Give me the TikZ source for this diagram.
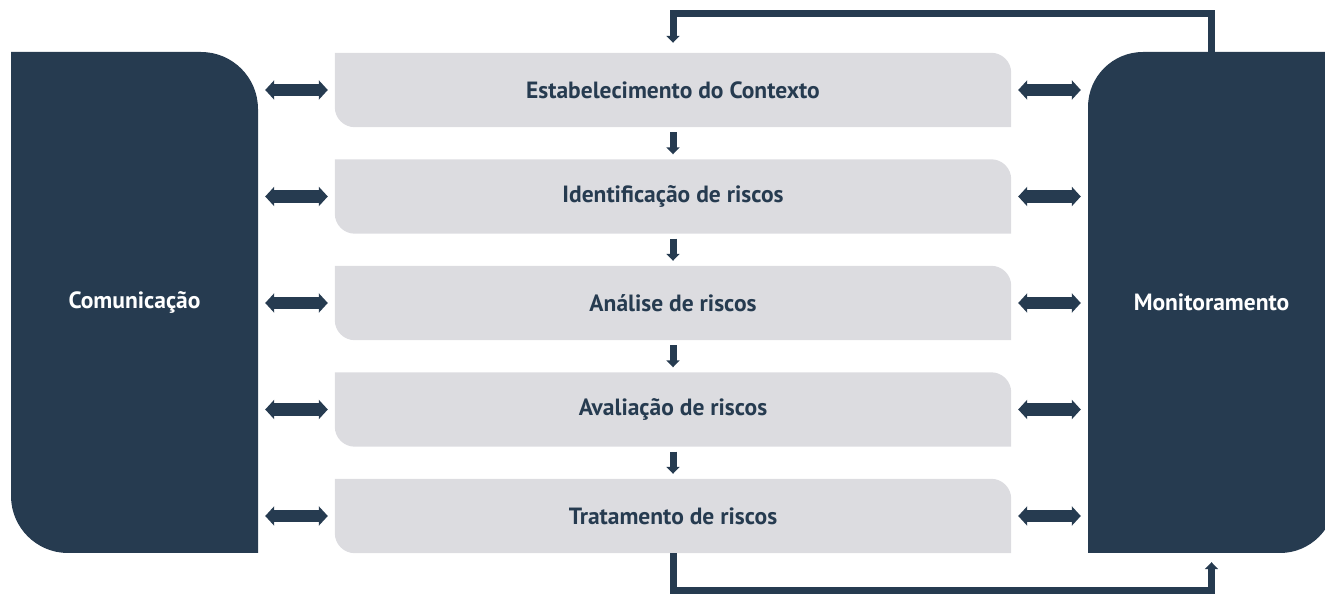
\documentclass[tikz,border=0pt]{standalone}
\usepackage{fontspec}
\setmainfont{PT Sans}
\usetikzlibrary{arrows.meta}
\definecolor{navy}{HTML}{263B50}
\definecolor{lgray}{HTML}{DCDCE0}
\tikzset{
  stagebox/.style={minimum width=676pt, minimum height=74pt, inner sep=0pt, text=navy, font=\fontsize{23.5}{26}\selectfont\bfseries},
  sidebox/.style={minimum width=247pt, minimum height=501pt, inner sep=0pt, text=white, font=\fontsize{23.5}{26}\selectfont\bfseries},
  dblarrow/.style={draw=navy, line width=12.5pt, {Triangle[width=19pt,length=9pt]}-{Triangle[width=19pt,length=9pt]}, shorten <=7pt, shorten >=7pt},
  downarrow/.style={draw=navy, line width=7pt, -{Triangle[width=13pt,length=7pt]}},
  loopline/.style={draw=navy, line width=7pt, -{Triangle[width=13pt,length=7pt]}}
}
\newcommand{\stageshape}[1]{%
  \fill[lgray] (#1.north west) -- ([xshift=-20pt]#1.north east) arc[start angle=90,end angle=0,radius=20pt]
    -- (#1.south east) -- ([xshift=20pt]#1.south west) arc[start angle=270,end angle=180,radius=20pt] -- cycle;}
\begin{document}
\begin{tikzpicture}[x=1pt,y=1pt]
\clip (0,0) rectangle (1325,594);
\useasboundingbox (0,0) rectangle (1325,594);
% side boxes shapes
\fill[navy] (11,542) -- (201,542) arc[start angle=90,end angle=0,radius=57] -- (258,41) -- (68,41) arc[start angle=270,end angle=180,radius=57] -- cycle;
\fill[navy] (1335,542) -- (1143,542) arc[start angle=90,end angle=180,radius=55] -- (1088,41) -- (1280,41) arc[start angle=270,end angle=360,radius=55] -- cycle;
\node[sidebox] (com) at (134.5,291.5) {Comunicação};
\node[sidebox] (mon) at (1211.5,291.5) {Monitoramento};
% stage boxes
\path (673,504) node[stagebox] (b1) {}
      (673,397.5) node[stagebox] (b2) {}
      (673,291) node[stagebox] (b3) {}
      (673,184.5) node[stagebox] (b4) {}
      (673,78) node[stagebox] (b5) {};
\stageshape{b1}\stageshape{b2}\stageshape{b3}\stageshape{b4}\stageshape{b5}
\node[stagebox] at (b1) {Estabelecimento do Contexto};
\node[stagebox] at (b2) {Identificação de riscos};
\node[stagebox] at (b3) {Análise de riscos};
\node[stagebox] at (b4) {Avaliação de riscos};
\node[stagebox] at (b5) {Tratamento de riscos};
% double arrows
\foreach \b in {b1,b2,b3,b4,b5}{
  \draw[dblarrow] (com.east |- \b.west) -- (\b.west);
  \draw[dblarrow] (\b.east) -- (mon.west |- \b.east);
}
% down arrows
\draw[downarrow, shorten <=5pt, shorten >=5pt] (b1.south) -- (b2.north);
\draw[downarrow, shorten <=5pt, shorten >=5pt] (b2.south) -- (b3.north);
\draw[downarrow, shorten <=5pt, shorten >=5pt] (b3.south) -- (b4.north);
\draw[downarrow, shorten <=5pt, shorten >=5pt] (b4.south) -- (b5.north);
% loops
\coordinate (top) at (673,580.5);
\coordinate (bot) at (673,3.5);
\draw[loopline, shorten >=10pt] (mon.north) |- (top) -- (b1.north);
\draw[loopline, shorten >=9pt] (b5.south) -- (bot) -| (mon.south);
\end{tikzpicture}
\end{document}
